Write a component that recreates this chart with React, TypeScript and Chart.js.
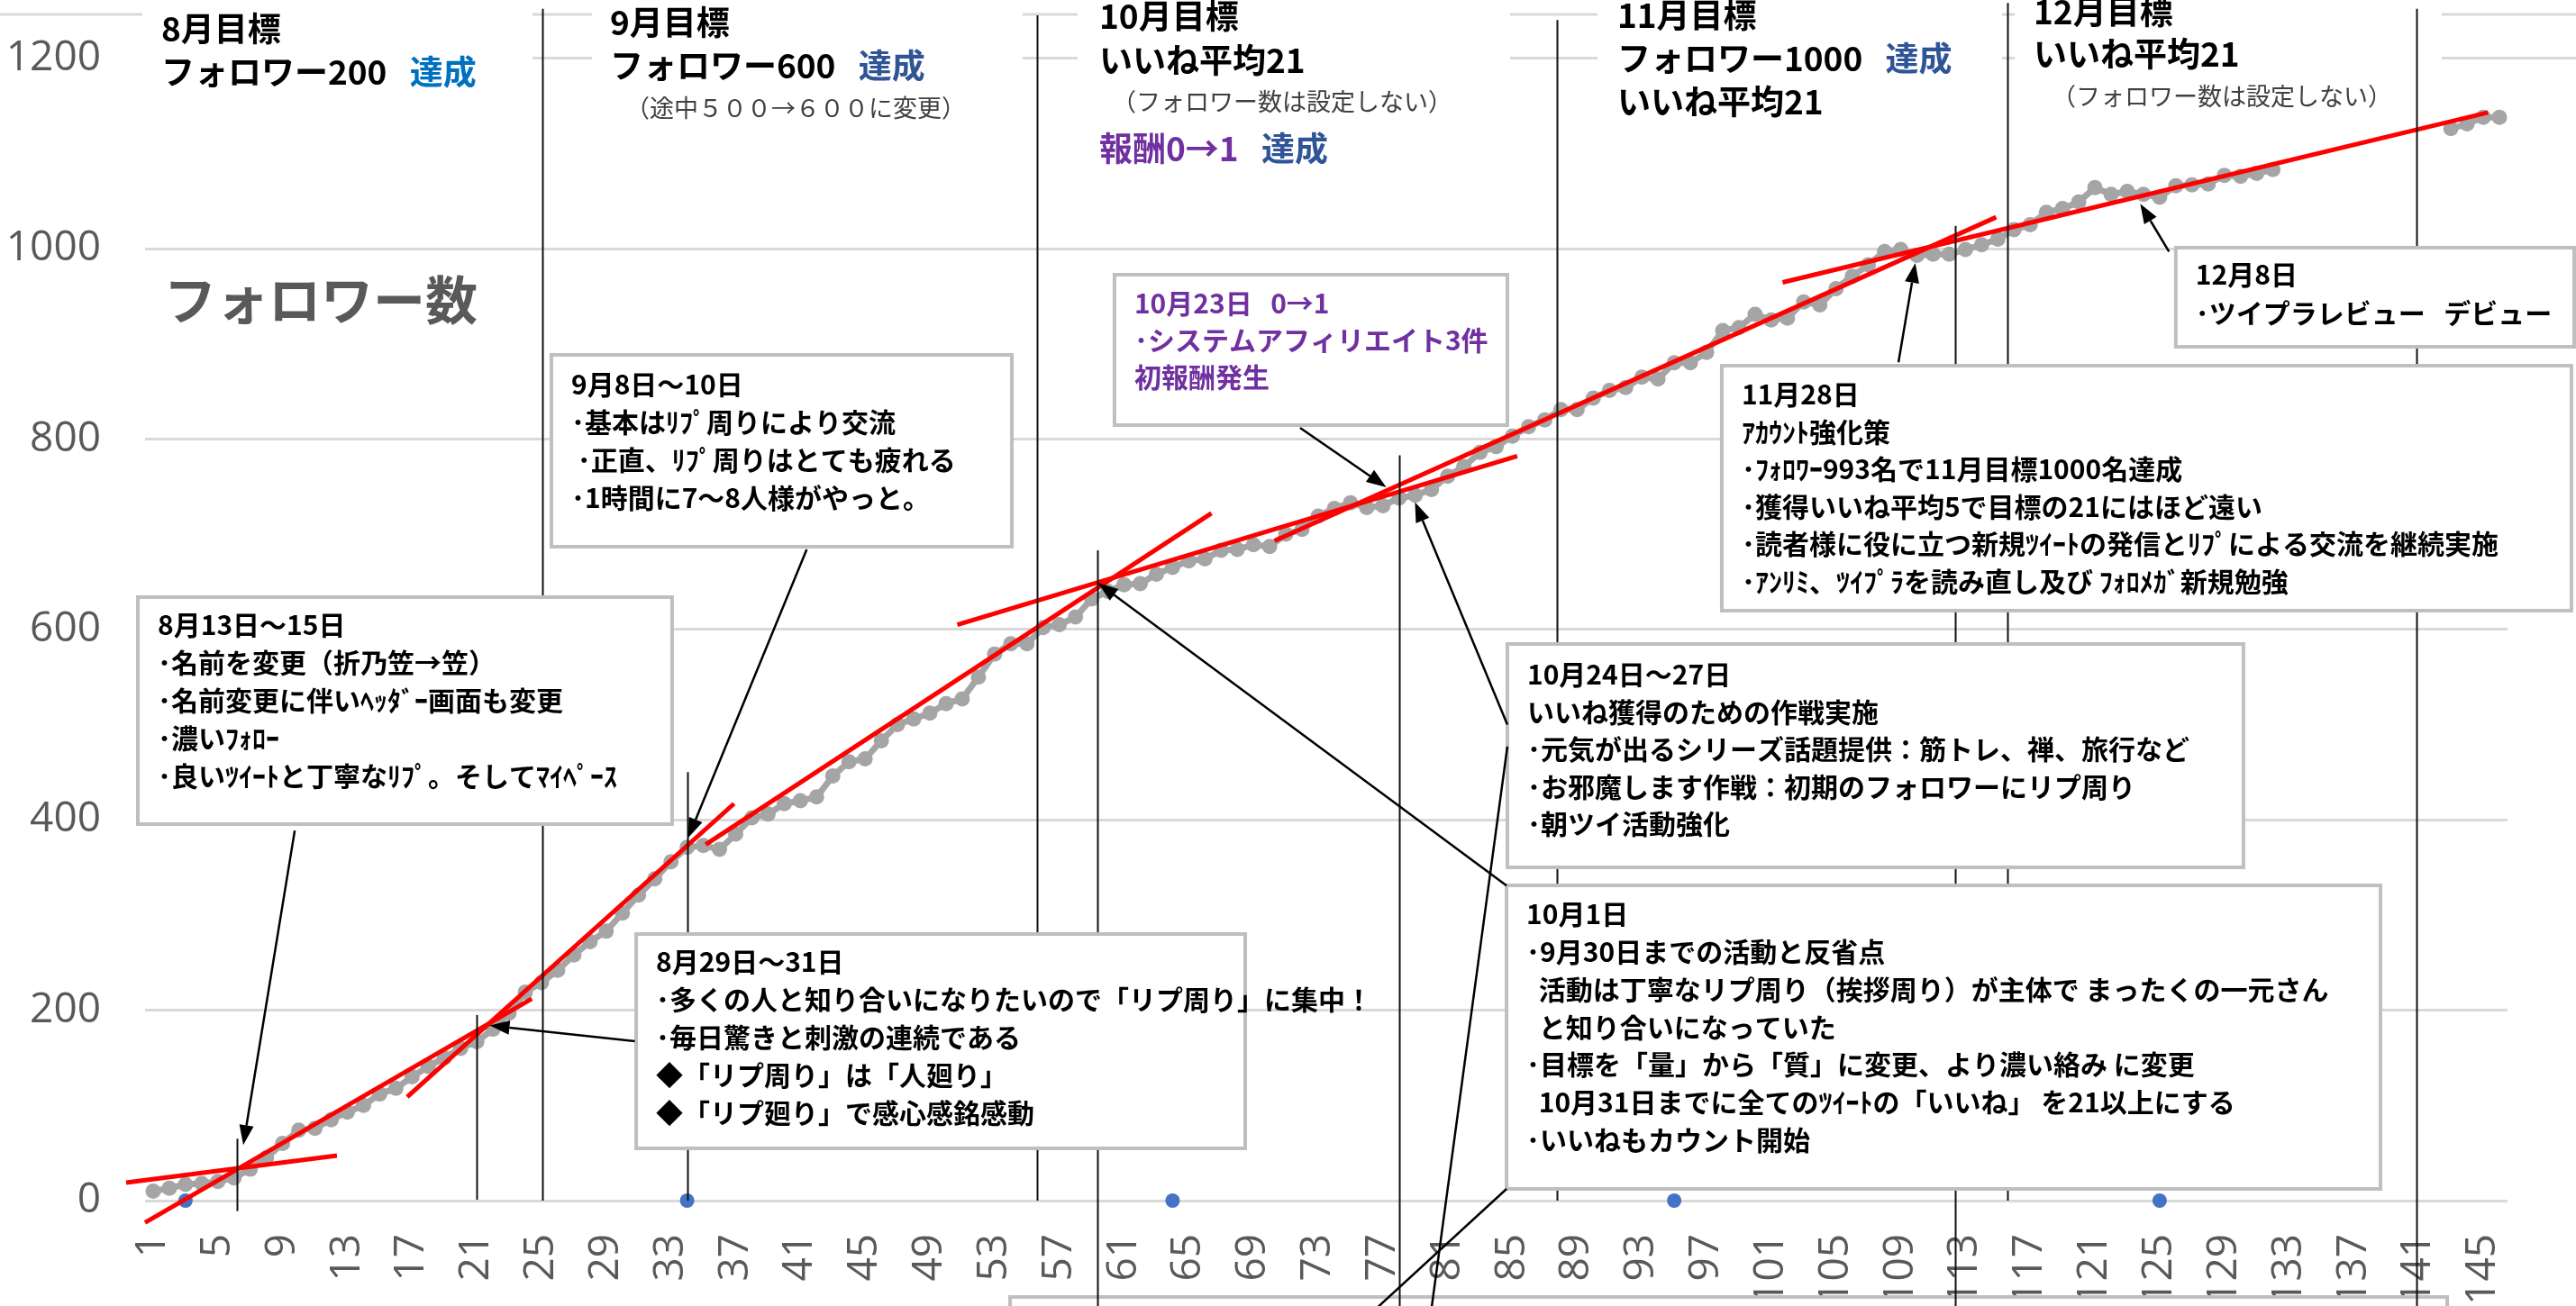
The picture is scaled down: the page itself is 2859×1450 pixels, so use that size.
import React, { useEffect, useRef } from "react";
import { Chart, registerables } from "chart.js";

Chart.register(...registerables);

// ---------- data ----------
const followers: (number | null)[] = [
  10, 13, 17, 18, 20, 24, 33, 45, 60, 74,
  76, 85, 93, 100, 112, 118, 130, 141, 150, 160,
  167, 180, 197, 219, 229, 242, 258, 272, 283, 302,
  321, 338, 356, 371, 373, 369, 385, 402, 406, 417,
  420, 424, 446, 461, 464, 483, 500, 506, 512, 522,
  527, 550, 574, 585, 585, 602, 605, 613, 632, 640,
  647, 648, 658, 665, 672, 674, 683, 684, 689, 687,
  700, 705, 719, 727, 733, 728, 730, 738, 741, 747,
  761, 771, 786, 792, 803, 813, 820, 831, 831, 843,
  851, 854, 865, 863, 880, 880, 891, 914, 917, 931,
  925, 927, 944, 941, 958, 971, 983, 997, 999, 993,
  994, 994, 999, 1004, 1010, 1020, 1025, 1038, 1042, 1049,
  1064, 1057, 1060, 1057, 1054, 1066, 1067, 1068, 1077, 1076,
  1079, 1083, null, null, null, null, null, null, null, null,
  null, null, 1126, 1131, 1138, 1138,
];

const monthStartDays = [3, 34, 64, 95, 125];

const xTickDays = [
  1, 5, 9, 13, 17, 21, 25, 29, 33, 37, 41, 45, 49, 53, 57, 61, 65, 69, 73,
  77, 81, 85, 89, 93, 97, 101, 105, 109, 113, 117, 121, 125, 129, 133, 137,
  141, 145,
];
const yTicks = [0, 200, 400, 600, 800, 1000, 1200];
const Y_MAX = 1246;

// red trend lines
const trendStartDays = [-0.67, 0.5, 16.7, 35.15, 50.7, 70.3, 101.7];
const trendStartValues = [19, -23, 109, 374, 605, 693, 964.5];
const trendEndDays = [12.36, 24.4, 36.9, 66.4, 85.3, 114.9, 145.3];
const trendEndValues = [47.4, 212, 417, 722, 782, 1033, 1143];

// thin vertical marker lines
const markerDays = [6.2, 21, 25.05, 34, 55.63, 59.36, 78.01, 87.75, 112.37, 115.6, 140.86];
const markerTops = [65, 195, 1252, 450, 1245, 683, 783, 1240, 1024, 1258, 1252];
const markerBottoms = [-11, 1, 0, 0, 0, -140, -140, 0, -140, 0, -140];

// callout arrows
const arrowFromDays = [9.75, 41.39, 30.77, 71.88, 84.69, 84.64, 108.86, 125.58];
const arrowFromValues = [388.7, 684, 167.5, 811.7, 500, 331, 880.5, 996.9];
const arrowToDays = [6.57, 34.06, 21.8, 77.21, 78.98, 59.4, 109.9, 123.8];
const arrowToValues = [58.5, 381, 184, 749.4, 733.7, 648.7, 984.9, 1047.2];

// connector lines without heads
const connectorFromDays = [84.69, 84.64];
const connectorFromValues = [477, 12.3];
const connectorToDays = [79.79, 74.88];
const connectorToValues = [-140, -140];

// ---------- text ----------
const JP = '"Noto Sans CJK JP", "Noto Sans CJK SC", sans-serif';
const NUM = '"Open Sans", "Liberation Sans", sans-serif';
const BOX_FONT = `bold 30px ${JP}`;
const TITLE_FONT = `bold 37px ${JP}`;
const SUB_FONT = `27px ${JP}`;
const GAP = "   ";

type NoteBox = {
  d0: number; d1: number; vTop: number; vBottom: number;
  first: number; pitch: number; color: string; lines: string[];
};

const noteBoxes: NoteBox[] = [
  {
    d0: 0.055, d1: 33.07, vTop: 633.9, vBottom: 395.5, first: 31, pitch: 42, color: "#000",
    lines: [
      "8月13日～15日",
      "･名前を変更（折乃笠→笠）",
      "･名前変更に伴いﾍｯﾀﾞｰ画面も変更",
      "･濃いﾌｫﾛｰ",
      "･良いﾂｲｰﾄと丁寧なﾘﾌﾟ。そしてﾏｲﾍﾟｰｽ",
    ],
  },
  {
    d0: 25.61, d1: 54.07, vTop: 888.4, vBottom: 686.9, first: 33, pitch: 42, color: "#000",
    lines: [
      "9月8日～10日",
      "･基本はﾘﾌﾟ周りにより交流",
      " ･正直、ﾘﾌﾟ周りはとても疲れる",
      "･1時間に7～8人様がやっと。",
    ],
  },
  {
    d0: 60.41, d1: 84.69, vTop: 972.6, vBottom: 814.6, first: 32, pitch: 41, color: "#7030A0",
    lines: ["10月23日" + GAP + "0→1", "･システムアフィリエイト3件", "初報酬発生"],
  },
  {
    d0: 97.94, d1: 150.45, vTop: 877.0, vBottom: 619.7, first: 32, pitch: 41.5, color: "#000",
    lines: [
      "11月28日",
      "ｱｶｳﾝﾄ強化策",
      "･ﾌｫﾛﾜｰ993名で11月目標1000名達成",
      "･獲得いいね平均5で目標の21にはほど遠い",
      "･読者様に役に立つ新規ﾂｲｰﾄの発信とﾘﾌﾟによる交流を継続実施",
      "･ｱﾝﾘﾐ、ﾂｲﾌﾟﾗを読み直し及び ﾌｫﾛﾒｶﾞ新規勉強",
    ],
  },
  {
    d0: 126.0, d1: 150.62, vTop: 1001, vBottom: 896.9, first: 30, pitch: 43, color: "#000",
    lines: ["12月8日", "･ツイプラレビュー" + GAP + "デビュー"],
  },
  {
    d0: 84.69, d1: 130.18, vTop: 584.7, vBottom: 350.1, first: 34, pitch: 41.5, color: "#000",
    lines: [
      "10月24日～27日",
      "いいね獲得のための作戦実施",
      "･元気が出るシリーズ話題提供：筋トレ、禅、旅行など",
      "･お邪魔します作戦：初期のフォロワーにリプ周り",
      "･朝ツイ活動強化",
    ],
  },
  {
    d0: 84.64, d1: 138.65, vTop: 331.1, vBottom: 12.3, first: 32, pitch: 41.7, color: "#000",
    lines: [
      "10月1日",
      "･9月30日までの活動と反省点",
      "  活動は丁寧なリプ周り（挨拶周り）が主体で まったくの一元さん",
      "  と知り合いになっていた",
      "･目標を「量」から「質」に変更、より濃い絡み に変更",
      "  10月31日までに全てのﾂｲｰﾄの「いいね」 を21以上にする",
      "･いいねもカウント開始",
    ],
  },
  {
    d0: 30.85, d1: 68.49, vTop: 280.0, vBottom: 54.9, first: 31, pitch: 42, color: "#000",
    lines: [
      "8月29日～31日",
      "･多くの人と知り合いになりたいので「リプ周り」に集中！",
      "･毎日驚きと刺激の連続である",
      "◆「リプ周り」は「人廻り」",
      "◆「リプ廻り」で感心感銘感動",
    ],
  },
];

const bottomBox = { d0: 53.96, d1: 142.77, vTop: -101.2, vBottom: -180 };

// white header areas
const headerStartDays = [0.33, 28.12, 58.13, 90.26, 116.04];
const headerEndDays = [24.44, 54.73, 84.86, 115.26, 142.43];
const headerBottoms = [1157, 1128.7, 1081.4, 1133.4, 1142.9];

type Seg = [string, string];
type TitleLine = { day: number; value: number; font: string; segs: Seg[] };
const BLUE1 = "#0070C0";
const BLUE2 = "#2F5597";
const PURPLE = "#7030A0";
const titleLines: TitleLine[] = [
  { day: 1.5, value: 1230.9, font: TITLE_FONT, segs: [["8月目標", "#000"]] },
  { day: 1.5, value: 1185.5, font: TITLE_FONT, segs: [["フォロワー200" + GAP, "#000"], ["達成", BLUE1]] },
  { day: 29.23, value: 1237.5, font: TITLE_FONT, segs: [["9月目標", "#000"]] },
  { day: 29.23, value: 1192.1, font: TITLE_FONT, segs: [["フォロワー600" + GAP, "#000"], ["達成", BLUE2]] },
  { day: 30.18, value: 1147.6, font: SUB_FONT, segs: [["（途中５００→６００に変更）", "#404040"]] },
  { day: 59.47, value: 1244.1, font: TITLE_FONT, segs: [["10月目標", "#000"]] },
  { day: 59.47, value: 1197.8, font: TITLE_FONT, segs: [["いいね平均21", "#000"]] },
  { day: 60.25, value: 1154.3, font: SUB_FONT, segs: [["（フォロワー数は設定しない）", "#404040"]] },
  { day: 59.47, value: 1105.1, font: TITLE_FONT, segs: [["報酬0→1" + GAP, PURPLE], ["達成", BLUE2]] },
  { day: 91.48, value: 1245.1, font: TITLE_FONT, segs: [["11月目標", "#000"]] },
  { day: 91.48, value: 1199.7, font: TITLE_FONT, segs: [["フォロワー1000" + GAP, "#000"], ["達成", BLUE2]] },
  { day: 91.48, value: 1154.3, font: TITLE_FONT, segs: [["いいね平均21", "#000"]] },
  { day: 117.21, value: 1248.8, font: TITLE_FONT, segs: [["12月目標", "#000"]] },
  { day: 117.21, value: 1204.4, font: TITLE_FONT, segs: [["いいね平均21", "#000"]] },
  { day: 118.32, value: 1159.9, font: SUB_FONT, segs: [["（フォロワー数は設定しない）", "#404040"]] },
  { day: 1.67, value: 946.1, font: `bold 58px ${JP}`, segs: [["フォロワー数", "#595959"]] },
];

const notesPlugin = {
  id: "notes",
  afterDraw(chart: any) {
    const ctx: CanvasRenderingContext2D = chart.ctx;
    const xs = chart.scales.x;
    const ys = chart.scales.y;
    const X = (d: number) => xs.getPixelForValue(d);
    const Y = (v: number) => ys.getPixelForValue(v);
    const W = chart.width;
    ctx.save();

    // top grid extensions
    ctx.strokeStyle = "#D9D9D9";
    ctx.lineWidth = 3;
    ctx.beginPath();
    ctx.moveTo(0, Y(Y_MAX));
    ctx.lineTo(W, Y(Y_MAX));
    ctx.moveTo(X(0.5), Y(1200));
    ctx.lineTo(W, Y(1200));
    ctx.stroke();

    const drawFrame = (d0: number, d1: number, vt: number, vb: number) => {
      const x0 = X(d0), x1 = X(d1), y0 = Y(vt), y1 = Y(vb);
      ctx.fillStyle = "#fff";
      ctx.fillRect(x0, y0, x1 - x0, y1 - y0);
      ctx.strokeStyle = "#BFBFBF";
      ctx.lineWidth = 4;
      ctx.strokeRect(x0, y0, x1 - x0, y1 - y0);
      return { x0, y0 };
    };

    drawFrame(bottomBox.d0, bottomBox.d1, bottomBox.vTop, bottomBox.vBottom);

    ctx.fillStyle = "#fff";
    headerStartDays.forEach((d0, i) => {
      const x0 = X(d0), x1 = X(headerEndDays[i]);
      const y0 = Y(1265), y1 = Y(headerBottoms[i]);
      ctx.fillRect(x0, y0, x1 - x0, y1 - y0);
    });

    ctx.textBaseline = "middle";
    ctx.textAlign = "left";
    titleLines.forEach((t) => {
      ctx.font = t.font;
      let x = X(t.day);
      const y = Y(t.value);
      t.segs.forEach(([txt, col]) => {
        ctx.fillStyle = col;
        ctx.fillText(txt, x, y);
        x += ctx.measureText(txt).width;
      });
    });

    ctx.strokeStyle = "#111";
    ctx.lineWidth = 2;
    markerDays.forEach((d, i) => {
      const x = Math.round(X(d)) + 0.5;
      ctx.beginPath();
      ctx.moveTo(x, Y(markerTops[i]));
      ctx.lineTo(x, Y(markerBottoms[i]));
      ctx.stroke();
    });

    noteBoxes.forEach((b) => {
      const { x0, y0 } = drawFrame(b.d0, b.d1, b.vTop, b.vBottom);
      ctx.font = BOX_FONT;
      ctx.fillStyle = b.color;
      ctx.textBaseline = "middle";
      ctx.textAlign = "left";
      b.lines.forEach((line, i) => {
        ctx.fillText(line, x0 + 22, y0 + b.first + i * b.pitch);
      });
    });

    const arrow = (x0: number, y0: number, x1: number, y1: number, head: boolean) => {
      const ang = Math.atan2(y1 - y0, x1 - x0);
      const hl = 22, hw = 8;
      const bx = x1 - hl * Math.cos(ang);
      const by = y1 - hl * Math.sin(ang);
      ctx.strokeStyle = "#000";
      ctx.fillStyle = "#000";
      ctx.lineWidth = 2.5;
      ctx.beginPath();
      ctx.moveTo(x0, y0);
      ctx.lineTo(head ? bx : x1, head ? by : y1);
      ctx.stroke();
      if (head) {
        ctx.beginPath();
        ctx.moveTo(x1, y1);
        ctx.lineTo(bx + hw * Math.sin(ang), by - hw * Math.cos(ang));
        ctx.lineTo(bx - hw * Math.sin(ang), by + hw * Math.cos(ang));
        ctx.closePath();
        ctx.fill();
      }
    };
    arrowFromDays.forEach((d, i) => {
      arrow(X(d), Y(arrowFromValues[i]), X(arrowToDays[i]), Y(arrowToValues[i]), true);
    });
    connectorFromDays.forEach((d, i) => {
      arrow(X(d), Y(connectorFromValues[i]), X(connectorToDays[i]), Y(connectorToValues[i]), false);
    });

    ctx.restore();
  },
};

export default function App() {
  const ref = useRef<HTMLCanvasElement>(null);

  useEffect(() => {
    const canvas = ref.current;
    if (!canvas) return;

    const trendSets = trendStartDays.map((d, i) => ({
      type: "line" as const,
      data: [
        { x: d, y: trendStartValues[i] },
        { x: trendEndDays[i], y: trendEndValues[i] },
      ],
      borderColor: "#FF0000",
      borderWidth: 5,
      pointRadius: 0,
      clip: false as any,
      order: 0,
    }));

    const chart = new Chart(canvas, {
      type: "line",
      data: {
        datasets: [
          ...trendSets,
          {
            type: "line",
            data: monthStartDays.map((d) => ({ x: d, y: 0 })),
            showLine: false,
            pointRadius: 8,
            pointBackgroundColor: "#4472C4",
            pointBorderWidth: 0,
            clip: false as any,
            order: 1,
          },
          {
            type: "line",
            data: followers.map((v, i) => ({ x: i + 1, y: v as any })),
            borderColor: "#A5A5A5",
            borderWidth: 7,
            pointRadius: 8.5,
            pointBackgroundColor: "#A5A5A5",
            pointBorderWidth: 0,
            spanGaps: false,
            clip: false as any,
            order: 2,
          },
        ],
      },
      options: {
        responsive: false,
        animation: false,
        devicePixelRatio: 1,
        events: [],
        layout: { padding: { top: 16, right: 76, bottom: 0, left: 0 } },
        plugins: { legend: { display: false }, tooltip: { enabled: false } },
        scales: {
          x: {
            type: "linear",
            min: 0.5,
            max: 146.5,
            grid: { display: false, drawTicks: false },
            border: { display: false },
            afterBuildTicks: (scale: any) => {
              scale.ticks = xTickDays.map((v) => ({ value: v }));
            },
            afterFit: (scale: any) => {
              scale.height = 117;
              scale.paddingLeft = 0;
              scale.paddingRight = 0;
              scale.paddingTop = 0;
              scale.paddingBottom = 0;
            },
            ticks: {
              autoSkip: false,
              minRotation: 90,
              maxRotation: 90,
              padding: 37,
              color: "#595959",
              font: { family: NUM, size: 46 },
              callback: (v: any) => String(v),
            },
          },
          y: {
            type: "linear",
            min: 0,
            max: Y_MAX,
            grid: { color: "#D9D9D9", lineWidth: 3, drawTicks: false },
            border: { display: false },
            afterBuildTicks: (scale: any) => {
              scale.ticks = yTicks.map((v) => ({ value: v }));
            },
            afterFit: (scale: any) => {
              scale.width = 161;
              scale.paddingLeft = 0;
              scale.paddingRight = 0;
              scale.paddingTop = 0;
              scale.paddingBottom = 0;
            },
            ticks: {
              padding: 49,
              color: "#595959",
              font: { family: NUM, size: 46 },
              callback: (v: any) => String(v),
            },
          },
        },
      } as any,
      plugins: [notesPlugin],
    });

    return () => chart.destroy();
  }, []);

  return (
    <div
      style={{
        position: "fixed",
        left: 0,
        top: 0,
        width: 2859,
        height: 1450,
        background: "#fff",
        overflow: "hidden",
      }}
    >
      <canvas
        ref={ref}
        width={2859}
        height={1450}
        style={{ display: "block", width: 2859, height: 1450 }}
      />
    </div>
  );
}
